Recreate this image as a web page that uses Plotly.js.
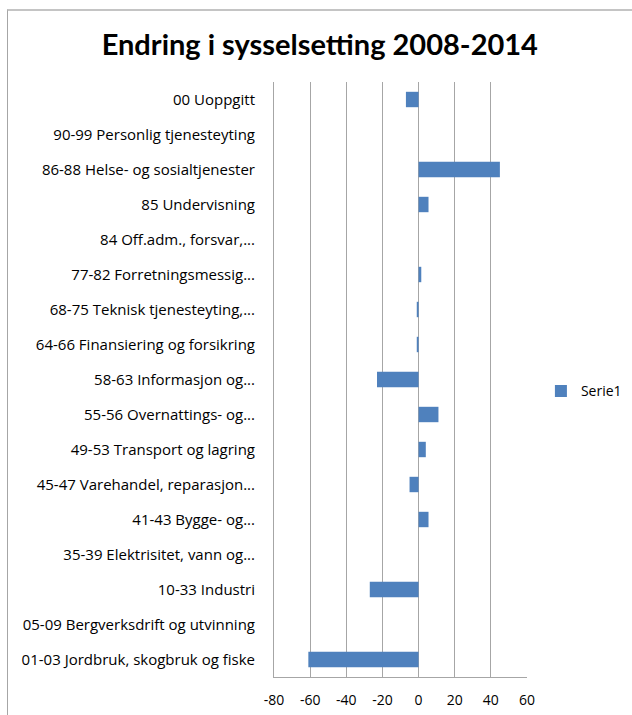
<!DOCTYPE html>
<html>
<head>
<meta charset="utf-8">
<script src="https://cdn.plot.ly/plotly-3.0.1.min.js"></script>
<style>
html,body{margin:0;padding:0;overflow:hidden;background:#fff;}
#chart{position:absolute;left:0;top:0;width:632px;height:715px;}
#frame{position:absolute;left:7px;top:9px;width:700px;height:800px;border-left:1px solid #a6a6a6;border-top:2px solid #c4c4c4;pointer-events:none;}
</style>
</head>
<body>
<div id="chart"></div>
<div id="frame"></div>
<script>
const categories = [
  "00 Uoppgitt",
  "90-99 Personlig tjenesteyting",
  "86-88 Helse- og sosialtjenester",
  "85 Undervisning",
  "84 Off.adm., forsvar,...",
  "77-82 Forretningsmessig...",
  "68-75 Teknisk tjenesteyting,...",
  "64-66 Finansiering og forsikring",
  "58-63 Informasjon og...",
  "55-56 Overnattings- og...",
  "49-53 Transport og lagring",
  "45-47 Varehandel, reparasjon...",
  "41-43 Bygge- og...",
  "35-39 Elektrisitet, vann og...",
  "10-33 Industri",
  "05-09 Bergverksdrift og utvinning",
  "01-03 Jordbruk, skogbruk og fiske"
];
const serie1 = [-7, 0, 45, 5.5, 0, 1.5, -1, -1, -23, 11, 4, -5, 5.5, 0, -27, 0, -61];
const xTicks = [-80, -60, -40, -20, 0, 20, 40, 60];
const seriesName = "Serie1";
const chartTitle = "Endring i sysselsetting 2008-2014";

const font = "'Open Sans', Lato, sans-serif";
const titleFont = "Lato, 'Open Sans', sans-serif";

const trace = {
  type: "bar",
  orientation: "h",
  x: serie1,
  y: categories,
  name: seriesName,
  marker: {color: "#4F81BD", line: {width: 0}},
  width: 0.44,
  showlegend: true
};

const layout = {
  width: 632,
  height: 715,
  margin: {l: 274, r: 105, t: 82, b: 38, autoexpand: false},
  paper_bgcolor: "#fff",
  plot_bgcolor: "#fff",
  font: {family: font, size: 14, color: "#000"},
  title: {
    text: "<b>" + chartTitle + "</b>",
    font: {family: titleFont, size: 29, color: "#000"},
    x: 0.506, xanchor: "center",
    y: 0.937, yanchor: "middle"
  },
  xaxis: {
    range: [-80, 60],
    tickvals: xTicks,
    ticktext: xTicks.map(String),
    showgrid: true,
    gridcolor: "#a6a6a6",
    gridwidth: 1,
    zeroline: false,
    showline: true,
    linecolor: "#a6a6a6",
    linewidth: 1,
    ticks: "",
    tickfont: {family: font, size: 14, color: "#000"},
    ticklabelstandoff: 10,
    fixedrange: true
  },
  yaxis: {
    type: "category",
    autorange: "reversed",
    showgrid: false,
    zeroline: false,
    showline: true,
    linecolor: "#a6a6a6",
    linewidth: 1,
    ticks: "",
    tickfont: {family: font, size: 15, color: "#000"},
    ticklabelstandoff: 15,
    fixedrange: true
  },
  legend: {
    x: 1.055, xanchor: "left",
    y: 0.48, yanchor: "middle",
    font: {family: font, size: 14, color: "#000"},
    itemwidth: 30
  },
  showlegend: true
};

Plotly.newPlot("chart", [trace], layout, {displayModeBar: false, staticPlot: true});
</script>
</body>
</html>
